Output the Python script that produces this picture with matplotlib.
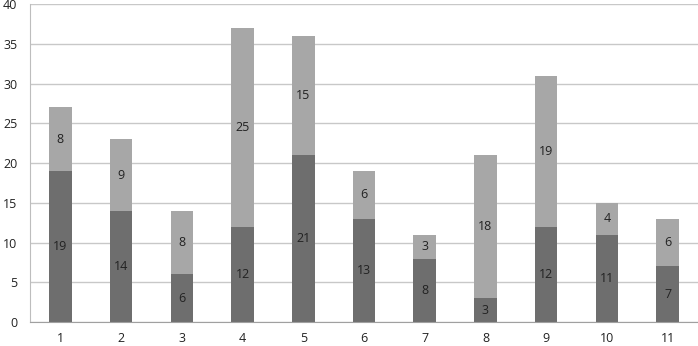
import numpy as np
import matplotlib.pyplot as plt

categories = ["1", "2", "3", "4", "5", "6", "7", "8", "9", "10", "11"]
bottom_vals = [19, 14, 6, 12, 21, 13, 8, 3, 12, 11, 7]
top_vals = [8, 9, 8, 25, 15, 6, 3, 18, 19, 4, 6]

dark = "#6e6e6e"
light = "#a7a7a7"

plt.rcParams['font.family'] = ['Open Sans', 'DejaVu Sans']

fig = plt.figure(figsize=(6.98, 3.46), dpi=100)
ax = fig.add_axes([0.043, 0.069, 0.957, 0.919])

x = np.arange(len(categories))
w = 0.37
b1 = ax.bar(x, bottom_vals, width=w, color=dark, zorder=2)
b2 = ax.bar(x, top_vals, width=w, bottom=bottom_vals, color=light, zorder=2)

ax.bar_label(b1, labels=[str(v) for v in bottom_vals], label_type="center",
             fontsize=9, color="#222222")
ax.bar_label(b2, labels=[str(v) for v in top_vals], label_type="center",
             fontsize=9, color="#222222")

ax.set_xlim(-0.5, len(categories) - 0.5)
ax.set_ylim(0, 40)
ax.set_yticks(range(0, 41, 5))
ax.set_xticks(x)
ax.set_xticklabels(categories)
ax.yaxis.grid(True, color="#c8c8c8", linewidth=1, zorder=0)
ax.set_axisbelow(True)

for s in ["top", "right"]:
    ax.spines[s].set_visible(False)
ax.spines["left"].set_color("#bdbdbd")
ax.spines["bottom"].set_color("#a0a0a0")
ax.tick_params(axis="both", length=0, labelsize=9, colors="#222222")
ax.tick_params(axis="x", pad=7)
ax.tick_params(axis="y", pad=9)

fig.savefig("out.png", dpi=100)
